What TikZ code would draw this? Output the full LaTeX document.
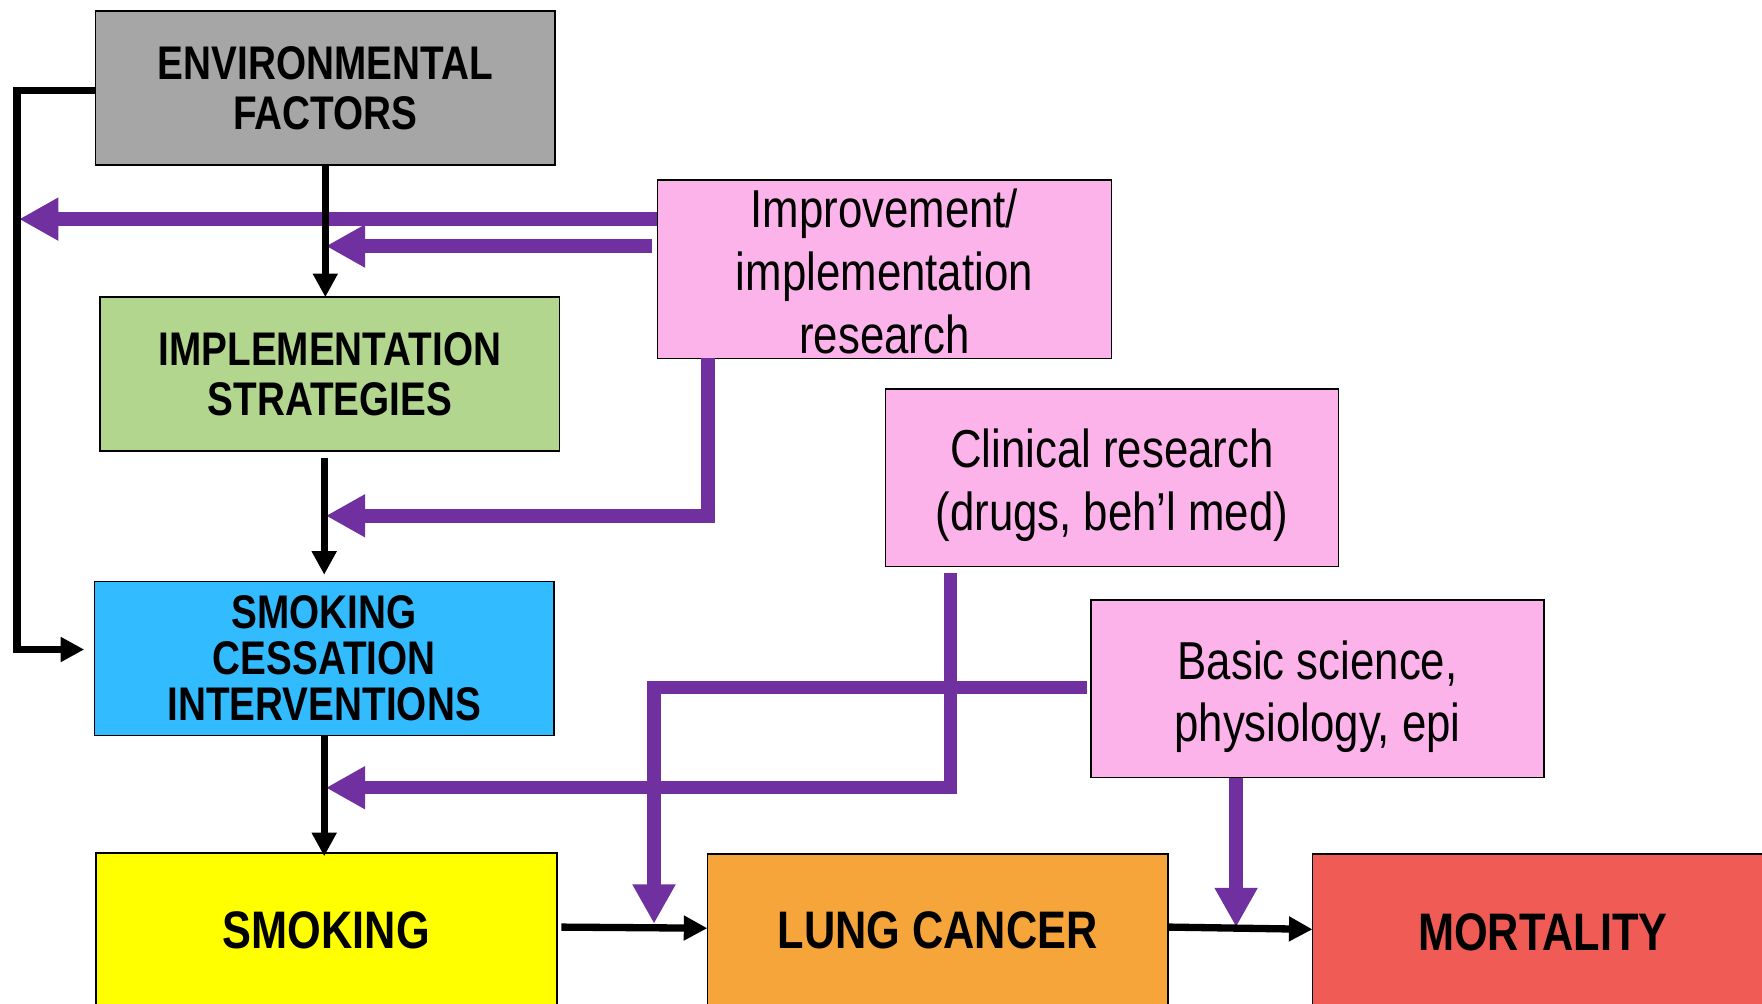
\documentclass[tikz,border=0pt]{standalone}
\usepackage{fontspec}
\setmainfont{Liberation Sans}[FakeStretch=0.82]
\usetikzlibrary{arrows.meta,calc}
\definecolor{envgray}{HTML}{A6A6A6}
\definecolor{implgreen}{HTML}{B3D68F}
\definecolor{sciblue}{HTML}{33BBFF}
\definecolor{smkyellow}{HTML}{FFFF00}
\definecolor{lungorange}{HTML}{F6A53A}
\definecolor{mortred}{HTML}{F15B55}
\definecolor{pinkc}{HTML}{FBB3EA}
\definecolor{purp}{HTML}{7030A0}
\begin{document}
\begin{tikzpicture}[x=1pt,y=-1pt,
  box/.style={draw=black, line width=1.5pt, inner sep=0pt, outer sep=0pt, align=center, text=black},
  bigbox/.style={box, minimum width=409pt, minimum height=137pt, font=\bfseries\fontsize{42}{45}\selectfont},
  rowbox/.style={box, minimum width=410pt, minimum height=138pt, font=\bfseries\fontsize{47}{50}\selectfont},
  pinkbox/.style={box, fill=pinkc, minimum width=404pt, minimum height=158pt},
  pinktxt/.style={inner sep=0pt, align=center, text=black, font=\fontsize{47.5}{56}\selectfont},
  blk/.style={draw=black, line width=6.5pt, -{Triangle[length=21pt,width=21pt]}},
  pur/.style={draw=purp, line width=12pt, line join=miter, -{Triangle[length=35pt,width=36pt]}},
]
\useasboundingbox (0,0) rectangle (1568,893);
\clip (0,0) rectangle (1568,893);
\fill[white] (0,0) rectangle (1568,893);

% boxes
\node[bigbox, fill=envgray] (env) at (289.5,78.5) {ENVIRONMENTAL\\FACTORS};
\node[bigbox, fill=implgreen] (impl) at (293.5,333) {IMPLEMENTATION\\STRATEGIES};
\node[bigbox, fill=sciblue, font=\bfseries\fontsize{42}{41}\selectfont] (sci) at (288.5,586) {SMOKING\\CESSATION\\INTERVENTIONS};
\node[rowbox, fill=smkyellow] (smk) at (290.5,828) {SMOKING};
\node[rowbox, fill=lungorange, minimum height=136pt] (lung) at (834.5,828) {LUNG CANCER};
\node[rowbox, fill=mortred, minimum height=140pt] (mort) at (1373,830) {MORTALITY};
\node[pinkbox, minimum height=159pt] (impr) at (787,239.5) {};
\node[pinkbox, minimum width=403pt] (clin) at (989.5,425) {};
\node[pinkbox, minimum width=403pt] (basic) at (1172.5,613) {};
\node[pinktxt] (imprt) at ($(impr.center)+(0,2)$) {Improvement/\\implementation\\research};
\node[pinktxt] (clint) at ($(clin.center)+(0,7)$) {Clinical research\\(drugs, beh'l med)};
\node[pinktxt] (basict) at ($(basic.center)+(0,7)$) {Basic science,\\physiology, epi};

% helper coordinates
\coordinate (cL) at (15,578);
\coordinate (p1) at (17,195);
\coordinate (p2) at (290,219);
\coordinate (p3a) at (630,320);
\coordinate (p3) at (290,459);
\coordinate (p4a) at (846,510);
\coordinate (p4) at (290,701);
\coordinate (p5) at (582,822);
\coordinate (p6) at (1100,825);

% purple connectors
\draw[pur] (impr.west |- p1) -- (p1);
\draw[pur, shorten <=5pt] (impr.west |- p2) -- (p2);
\draw[pur] (impr.south -| p3a) |- (p3);
\draw[pur, shorten <=6pt] (clin.south -| p4a) |- (p4);
\draw[pur, shorten <=4pt] ($(basic.west)+(0,-1)$) -| (p5);
\draw[pur] (basic.south -| p6) -- (p6);

% black connectors
\draw[blk] (env.south) -- (env.south |- impl.north);
\draw[blk, shorten >=9pt] ($(env.west)+(0,2)$) -| (cL) -- ($(sci.west)+(0,-8)$);
\draw[blk, shorten <=6pt, shorten >=6pt] (sci.north |- impl.south) -- (sci.north);
\draw[blk, shorten >=-3pt] (sci.south) -- (sci.south |- smk.north);
\draw[blk, shorten <=4pt] ($(smk.east)+(0,-3)$) -- ($(lung.west)+(0,-2)$);
\draw[blk] ($(lung.east)+(0,-3)$) -- ($(mort.west)+(0,-3)$);
\end{tikzpicture}
\end{document}
